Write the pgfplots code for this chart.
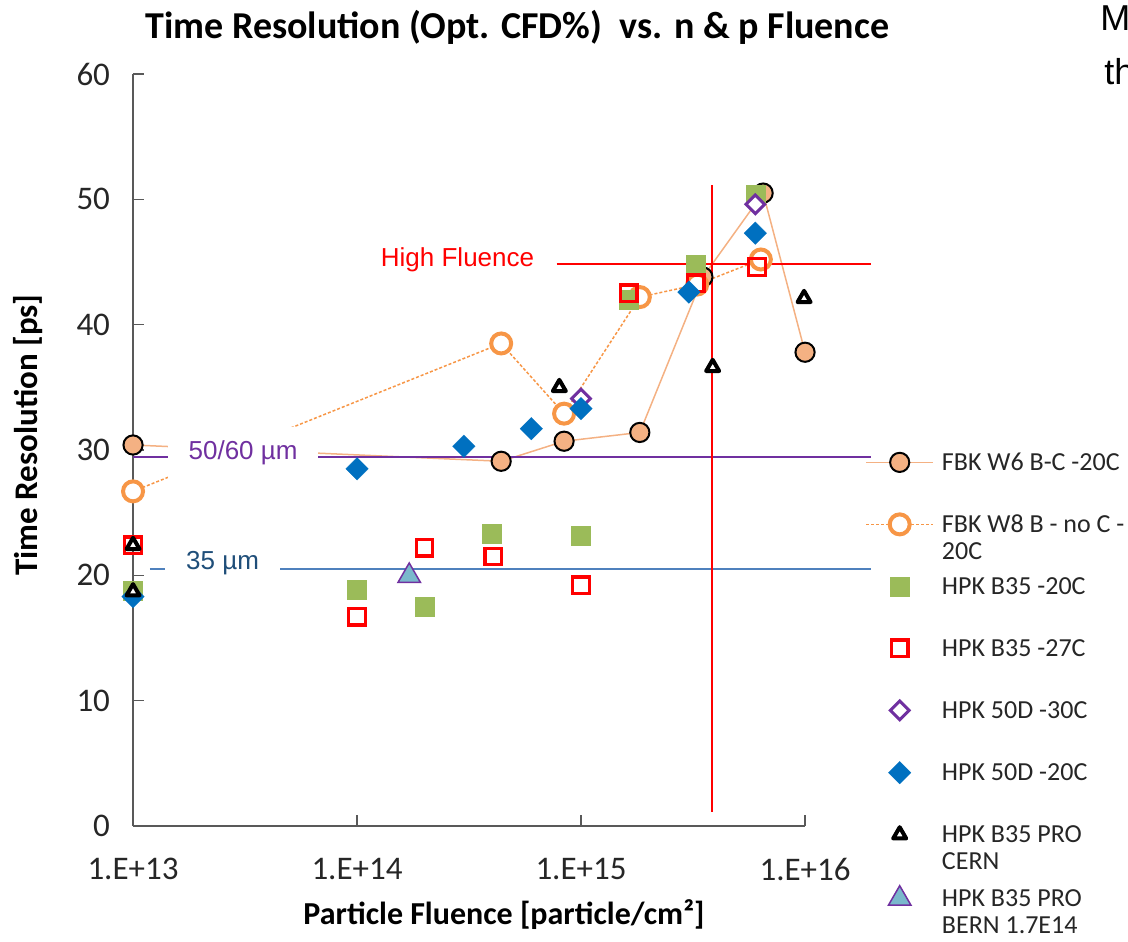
\documentclass[border=0pt]{standalone}
\usepackage{fontspec}
\setmainfont{Carlito}
\newfontfamily\arial{Liberation Sans}
\usepackage{pgfplots}
\pgfplotsset{compat=1.18}
\definecolor{w6fill}{HTML}{F4B183}
\definecolor{w6line}{HTML}{F4B183}
\definecolor{w8col}{HTML}{F79646}
\definecolor{hgreen}{HTML}{9BBB59}
\definecolor{hred}{HTML}{FF0000}
\definecolor{hpurple}{HTML}{7030A0}
\definecolor{hblue}{HTML}{0070C0}
\definecolor{bernfill}{HTML}{7AB8CC}
\definecolor{lineblue}{HTML}{4F81BD}
\definecolor{textblue}{HTML}{1F4E79}
\definecolor{axgray}{HTML}{595959}
\begin{document}
\begin{tikzpicture}
\begin{axis}[
  at={(0,0)}, anchor=south west,
  scale only axis, width=336pt, height=376pt,
  xmode=log, log basis x=10,
  xmin=1e13, xmax=1e16, ymin=0, ymax=60,
  enlargelimits=false,
  axis x line=bottom, axis y line=left,
  axis line style={-, draw=axgray, line width=0.75pt},
  tick style={draw=axgray, line width=0.75pt},
  tick align=inside,
  major tick length=5.5pt, minor tick length=5pt,
  xtick={1e13,1e14,1e15,1e16},
  xticklabels={1.E+13,1.E+14,1.E+15,1.E+16},
  ytick={0,10,20,30,40,50,60},
  /pgf/number format/assume math mode=true,
  ticklabel style={font=\fontsize{16.5}{19}\selectfont, text=black!85},
  xticklabel style={yshift=-12.5pt},
  yticklabel style={xshift=-8pt},
  clip=false,
  title={Time Resolution (Opt. CFD\%)\ \ vs. n \& p Fluence},
  title style={at={(axis description cs:0.572,1.0306)}, anchor=base, font=\bfseries\fontsize{19}{22}\selectfont},
  xlabel={Particle Fluence [particle/cm²]},
  xlabel style={at={(axis description cs:0.552,-0.1316)}, anchor=base, font=\bfseries\fontsize{16}{19}\selectfont},
  ylabel={Time Resolution [ps]},
  ylabel style={at={(axis description cs:-0.156,0.52)}, anchor=center, font=\bfseries\fontsize{16.5}{19}\selectfont},
  legend image code/.code={\draw[mark repeat=2,mark phase=2,#1] plot coordinates {(0pt,0pt) (16.75pt,0pt) (33.5pt,0pt)};},
  legend image post style={yshift=8pt},
  legend style={at={(axis description cs:1.0893,0.4987)}, anchor=north west,
    draw=none, fill=none, inner sep=0pt, row sep=4pt, column sep=4pt,
    font=\fontsize{13}{13.5}\selectfont, text=black!85,
    cells={anchor=west}, nodes={inner sep=0pt, text depth=}},
]
% FBK W6 B-C -20C
\addplot[draw=w6line, line width=0.75pt, mark=*, mark size=4.8pt,
  mark options={solid, fill=w6fill, draw=black, line width=1pt}]
  coordinates {(1e13,30.4) (4.4e14,29.1) (8.4e14,30.7) (1.83e15,31.4) (3.5e15,43.8) (6.5e15,50.5) (1e16,37.8)};
\addlegendentry{\parbox[t]{6cm}{\strut FBK W6 B-C -20C\\\strut}}
% FBK W8 B - no C -20C
\addplot[draw=w8col, line width=0.75pt, dash pattern=on 1.5pt off 1pt, mark=*, mark size=5pt,
  mark options={solid, fill=white, draw=w8col, line width=2pt}]
  coordinates {(1e13,26.7) (4.4e14,38.5) (8.4e14,32.9) (1.83e15,42.2) (3.3e15,43.2) (6.35e15,45.2)};
\addlegendentry{\parbox[t]{6cm}{\strut FBK W8 B - no C -\\\strut 20C}}
% HPK B35 -20C
\addplot[only marks, mark=square*, mark size=4.75pt,
  mark options={fill=hgreen, draw=hgreen, line width=0.1pt}]
  coordinates {(1e13,18.8) (1e14,18.9) (2e14,17.5) (4e14,23.3) (1e15,23.2) (1.63e15,42.0) (3.25e15,44.8) (6.0e15,50.4)};
\addlegendentry{\parbox[t]{6cm}{\strut HPK B35 -20C\\\strut}}
% HPK B35 -27C
\addplot[only marks, mark=square, mark size=4.15pt,
  mark options={draw=hred, line width=1.65pt}]
  coordinates {(1e13,22.4) (1e14,16.7) (2e14,22.2) (4.06e14,21.5) (1e15,19.2) (1.63e15,42.5) (3.25e15,43.3) (6.1e15,44.6)};
\addlegendentry{\parbox[t]{6cm}{\strut HPK B35 -27C\\\strut}}
% HPK 50D -30C
\addplot[only marks, mark=square*, mark size=3.3pt,
  mark options={rotate=45, fill=white, draw=hpurple, line width=1.5pt}]
  coordinates {(1e15,34.1) (6.0e15,49.6)};
\addlegendentry{\parbox[t]{6cm}{\strut HPK 50D -30C\\\strut}}
% HPK 50D -20C
\addplot[only marks, mark=square*, mark size=4.0pt,
  mark options={rotate=45, fill=hblue, draw=hblue, line width=0.1pt}]
  coordinates {(1e13,18.3) (1e14,28.5) (3e14,30.3) (6e14,31.7) (1e15,33.3) (3.03e15,42.6) (6.0e15,47.3)};
\addlegendentry{\parbox[t]{6cm}{\strut HPK 50D -20C\\\strut}}
% HPK B35 PRO CERN
\addplot[only marks, mark=triangle*, mark size=3.75pt,
  mark options={fill=white, draw=black, line width=2pt, line join=round}]
  coordinates {(1e13,22.4) (1e13,18.7) (8e14,35.0) (3.87e15,36.6) (9.9e15,42.1)};
\addlegendentry{\parbox[t]{6cm}{\strut HPK B35 PRO\\\strut CERN}}
% HPK B35 PRO BERN 1.7E14
\addplot[only marks, mark=triangle*, mark size=6.5pt,
  mark options={fill=bernfill, draw=hpurple, line width=0.75pt}]
  coordinates {(1.71e14,19.95)};
\addlegendentry{\parbox[t]{6cm}{\strut HPK B35 PRO\\\strut BERN 1.7E14}}
% annotation lines
\addplot[forget plot, draw=hpurple, line width=1.2pt] coordinates {(1e13,29.45) (1.97e16,29.45)};
\addplot[forget plot, draw=lineblue, line width=1pt] coordinates {(1.19e13,20.5) (1.97e16,20.5)};
\addplot[forget plot, draw=hred, line width=1.2pt] coordinates {(7.78e14,44.85) (1.97e16,44.85)};
\addplot[forget plot, draw=hred, line width=1.2pt] coordinates {(3.84e15,1.12) (3.84e15,51.16)};
\node[fill=white, inner sep=0pt, minimum width=75pt, minimum height=26pt, text=hpurple, font=\arial\fontsize{13}{15}\selectfont] at (axis cs:3.1e13,29.77) {50/60 µm};
\node[fill=white, inner sep=0pt, minimum width=57.5pt, minimum height=20pt, text=textblue, font=\arial\fontsize{13}{15}\selectfont] at (axis cs:2.51e13,20.99) {35 µm};
\node[inner sep=0pt, text=hred, font=\arial\fontsize{13}{15}\selectfont] at (axis cs:2.81e14,45.17) {High Fluence};
\end{axis}
\node[anchor=base west, inner sep=0pt, font=\arial\fontsize{18}{20}\selectfont] at (483.5pt,397.5pt) {M};
\node[anchor=base west, inner sep=0pt, font=\arial\fontsize{18}{20}\selectfont] at (485.5pt,370.5pt) {th};
\pgfresetboundingbox
\path[use as bounding box] (-66.5pt,-57.5pt) rectangle (497.5pt,413pt);
\end{tikzpicture}
\end{document}
